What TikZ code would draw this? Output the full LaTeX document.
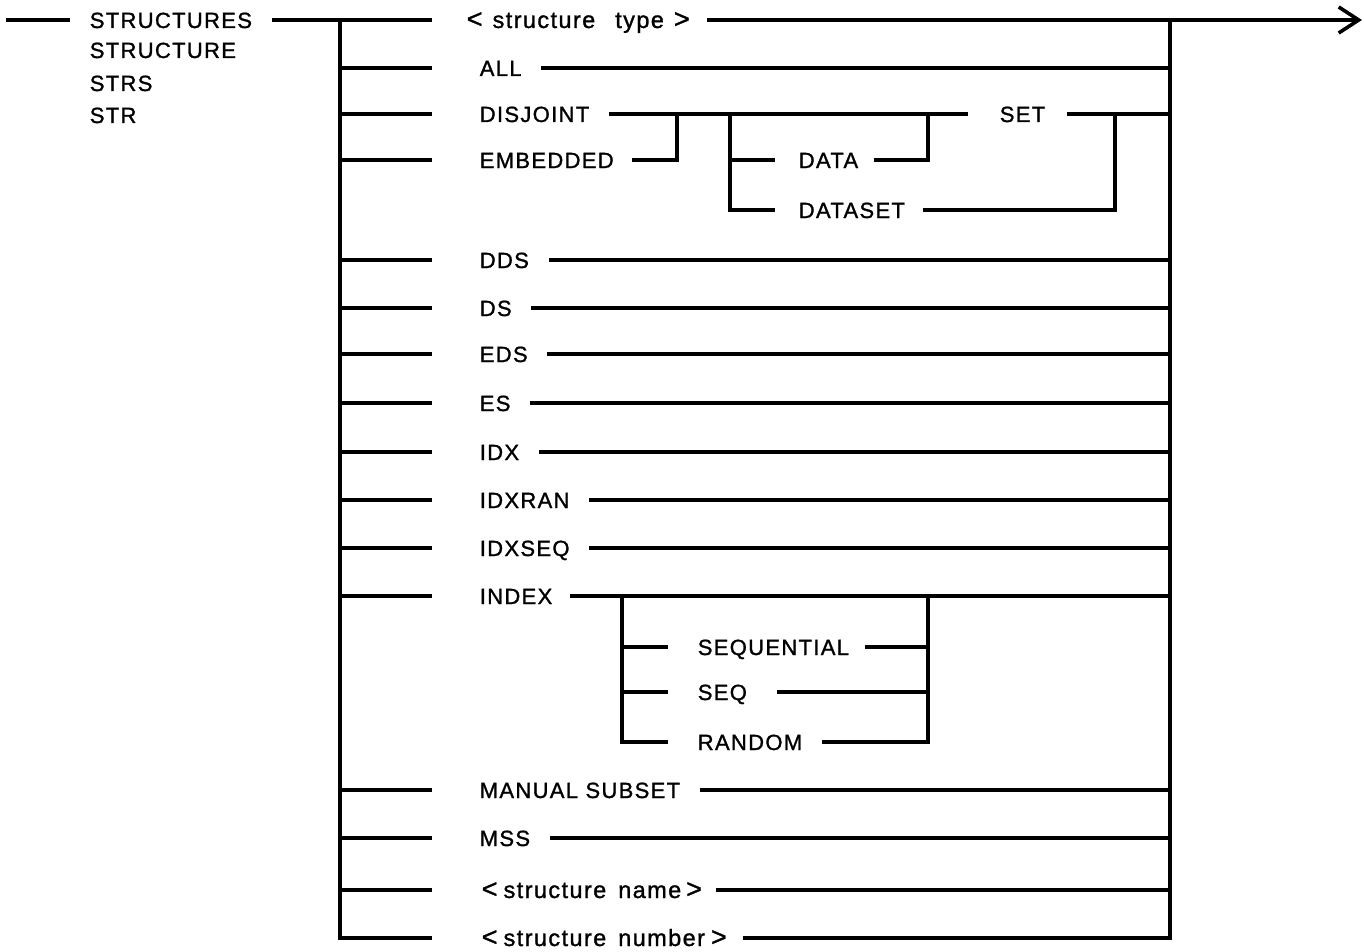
\documentclass[tikz,border=0pt]{standalone}
\usepackage{fontspec}
\usetikzlibrary{arrows.meta}
\newfontfamily\lblfont[LetterSpace=6,FakeBold=1.2]{Liberation Sans}
\newcommand{\lsym}{{\fontsize{27}{27}\selectfont<}}
\newcommand{\rsym}{{\fontsize{27}{27}\selectfont>}}
\newcommand{\lc}[1]{{\fontsize{23.5}{24}\selectfont #1}}
\begin{document}
\begin{tikzpicture}[x=1pt,y=-1pt,line width=3.6pt,
  lbl/.style={font=\lblfont\fontsize{22}{24}\selectfont,anchor=west,inner sep=0pt,text height=16pt,text depth=0pt},
  exitarrow/.style={-{Straight Barb[length=20pt,width=26pt,line width=3.6pt]}}]
\useasboundingbox (0,0) rectangle (1364,952);
% left keyword
\node[lbl] (strs1) at (88,20) {STRUCTURES};
\node[lbl] (strs2) at (88,50) {STRUCTURE};
\node[lbl] (strs3) at (88,83) {STRS};
\node[lbl] (strs4) at (88,115) {STR};
\coordinate (start) at (6,20);
\draw (start) -- ([xshift=-18]strs1.west);
% buses
\coordinate (Ltop) at (340,20);
\coordinate (Lbot) at (340,938);
\coordinate (Rtop) at (1170,20);
\coordinate (Rbot) at (1170,938);
\coordinate (exit) at (1362,20);
% main row
\node[lbl] (stype) at (465,20) {\lsym\hspace{10pt}\lc{structure}\hspace{20pt}\lc{type}\hspace{10pt}\rsym};
\draw ([xshift=18]strs1.east) -- ([xshift=-33]stype.west);
\draw[exitarrow] ([xshift=16]stype.east) -- (exit);
% simple rows
\foreach \n/\t/\y in {all/ALL/68, dds/DDS/260, ds/DS/308, eds/EDS/354, es/ES/403, idx/IDX/452, idxran/IDXRAN/500, idxseq/IDXSEQ/548, manual/MANUAL~SUBSET/790, mss/MSS/838}{
  \node[lbl] (\n) at (478,\y) {\t};
  \coordinate (\n L) at (340,\y);
  \coordinate (\n R) at (1170,\y);
  \draw (\n L) -- ([xshift=-46]\n.west);
  \draw ([xshift=18]\n.east) -- (\n R);
}
% structure name / number
\node[lbl] (sname) at (480,890) {\lsym\hspace{6pt}\lc{structure}\hspace{12pt}\lc{name}\hspace{5pt}\rsym};
\coordinate (snameL) at (340,890);
\coordinate (snameR) at (1170,890);
\draw (snameL) -- ([xshift=-48]sname.west);
\draw ([xshift=12]sname.east) -- (snameR);
\node[lbl] (snum) at (480,938) {\lsym\hspace{6pt}\lc{structure}\hspace{12pt}\lc{number}\hspace{6pt}\rsym};
\draw (Ltop) -- (Lbot) -- ([xshift=-48]snum.west);
\draw ([xshift=14]snum.east) -- (Rbot) -- (Rtop);
% DISJOINT / EMBEDDED group
\node[lbl] (disj) at (478,114) {DISJOINT};
\node[lbl] (emb) at (478,160) {EMBEDDED};
\coordinate (disjL) at (340,114);
\coordinate (embL) at (340,160);
\draw (disjL) -- ([xshift=-46]disj.west);
\draw (embL) -- ([xshift=-46]emb.west);
\coordinate (dj) at (677,114);
\coordinate (djb) at (677,160);
\draw ([xshift=16]emb.east) -- (djb) -- (dj);
\coordinate (dv) at (730,114);
\coordinate (dvb) at (730,210);
\coordinate (dataL) at (730,160);
\node[lbl] (data) at (797,160) {DATA};
\node[lbl] (dset) at (797,210) {DATASET};
\draw (dataL) -- ([xshift=-22]data.west);
\draw (dv) -- (dvb) -- ([xshift=-22]dset.west);
\coordinate (dm) at (928,114);
\coordinate (dmb) at (928,160);
\draw ([xshift=14]data.east) -- (dmb) -- (dm);
\node[lbl] (set) at (998,114) {SET};
\draw ([xshift=18]disj.east) -- ([xshift=-30]set.west);
\coordinate (se) at (1115,114);
\coordinate (seb) at (1115,210);
\draw ([xshift=16]dset.east) -- (seb) -- (se);
\coordinate (setR) at (1170,114);
\draw ([xshift=20]set.east) -- (setR);
% INDEX group
\node[lbl] (index) at (478,596) {INDEX};
\coordinate (indexL) at (340,596);
\coordinate (indexR) at (1170,596);
\draw (indexL) -- ([xshift=-46]index.west);
\draw ([xshift=16]index.east) -- (indexR);
\coordinate (iv) at (622,596);
\coordinate (ivb) at (622,742);
\coordinate (iw) at (928,596);
\coordinate (iwb) at (928,742);
\node[lbl] (seql) at (696,647) {SEQUENTIAL};
\node[lbl] (seq) at (696,692) {SEQ};
\node[lbl] (rand) at (696,742) {RANDOM};
\coordinate (seqlL) at (622,647);
\coordinate (seqL) at (622,692);
\coordinate (seqlR) at (928,647);
\coordinate (seqR) at (928,692);
\draw (seqlL) -- ([xshift=-28]seql.west);
\draw (seqL) -- ([xshift=-28]seq.west);
\draw (iv) -- (ivb) -- ([xshift=-28]rand.west);
\draw ([xshift=14]seql.east) -- (seqlR);
\draw ([xshift=28]seq.east) -- (seqR);
\draw ([xshift=18]rand.east) -- (iwb) -- (iw);
\end{tikzpicture}
\end{document}
